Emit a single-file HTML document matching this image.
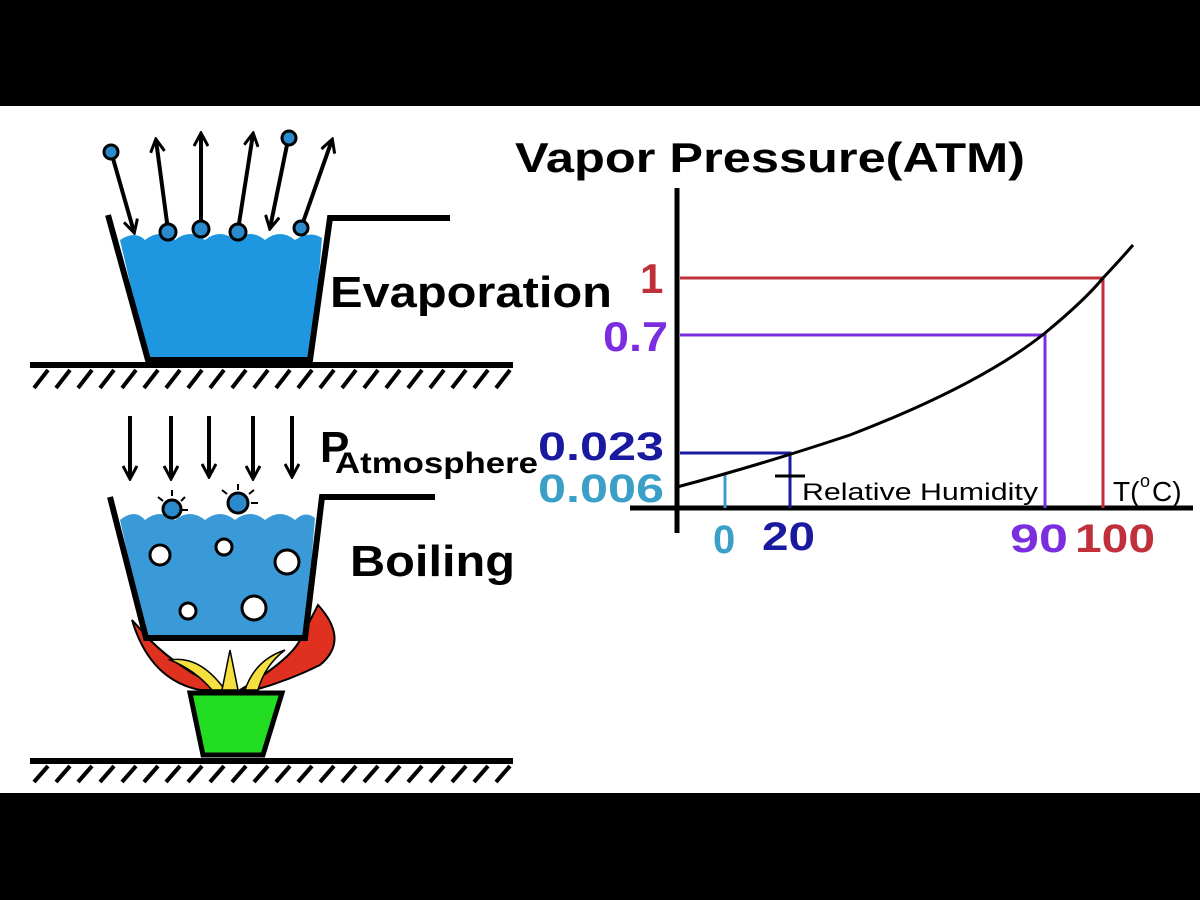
<!DOCTYPE html>
<html><head><style>
body{margin:0;background:#000;}
svg{display:block}
text{font-family:"Liberation Sans",sans-serif;font-weight:bold}
</style></head><body>
<svg width="1200" height="900" viewBox="0 0 1200 900" xmlns="http://www.w3.org/2000/svg">
<defs>
<marker id="ah" markerWidth="16" markerHeight="16" refX="13" refY="8" orient="auto" markerUnits="userSpaceOnUse" viewBox="0 0 16 16">
<path d="M1,1 L14,8 L1,15" fill="none" stroke="#000" stroke-width="3"/>
</marker>
</defs>
<rect x="0" y="0" width="1200" height="900" fill="#000"/>
<rect x="0" y="106" width="1200" height="687" fill="#fff"/>

<!-- Evaporation bucket -->
<path d="M120,240 Q135,230 145,240 Q160,228 175,240 Q190,228 205,240 Q220,228 235,240 Q250,228 265,240 Q280,228 295,240 Q310,230 322,238 L312,360 L148,360 Z" fill="#1e96e0"/>
<path d="M108,215 L148,360 L310,360 L330,218 L450,218" fill="none" stroke="#000" stroke-width="6"/>
<rect x="30" y="362" width="483" height="6" fill="#000"/>
<g stroke="#000" stroke-width="4">
<line x1="48" y1="370" x2="34" y2="388"/><line x1="70" y1="370" x2="56" y2="388"/><line x1="92" y1="370" x2="78" y2="388"/><line x1="114" y1="370" x2="100" y2="388"/><line x1="136" y1="370" x2="122" y2="388"/><line x1="158" y1="370" x2="144" y2="388"/><line x1="180" y1="370" x2="166" y2="388"/><line x1="202" y1="370" x2="188" y2="388"/><line x1="224" y1="370" x2="210" y2="388"/><line x1="246" y1="370" x2="232" y2="388"/><line x1="268" y1="370" x2="254" y2="388"/><line x1="290" y1="370" x2="276" y2="388"/><line x1="312" y1="370" x2="298" y2="388"/><line x1="334" y1="370" x2="320" y2="388"/><line x1="356" y1="370" x2="342" y2="388"/><line x1="378" y1="370" x2="364" y2="388"/><line x1="400" y1="370" x2="386" y2="388"/><line x1="422" y1="370" x2="408" y2="388"/><line x1="444" y1="370" x2="430" y2="388"/><line x1="466" y1="370" x2="452" y2="388"/><line x1="488" y1="370" x2="474" y2="388"/><line x1="510" y1="370" x2="496" y2="388"/>
</g>
<g stroke="#000" stroke-width="4" fill="none">
<line x1="112" y1="155" x2="134" y2="232" marker-end="url(#ah)"/>
<line x1="168" y1="230" x2="156" y2="140" marker-end="url(#ah)"/>
<line x1="201" y1="228" x2="201" y2="134" marker-end="url(#ah)"/>
<line x1="238" y1="230" x2="253" y2="134" marker-end="url(#ah)"/>
<line x1="288" y1="140" x2="270" y2="228" marker-end="url(#ah)"/>
<line x1="301" y1="228" x2="332" y2="140" marker-end="url(#ah)"/>
</g>
<g fill="#2a8acb" stroke="#000" stroke-width="3">
<circle cx="111" cy="152" r="7"/><circle cx="168" cy="232" r="8"/><circle cx="201" cy="229" r="8"/>
<circle cx="238" cy="232" r="8"/><circle cx="289" cy="138" r="7"/><circle cx="301" cy="228" r="7"/>
</g>
<text x="330" y="307" font-size="44" textLength="282" lengthAdjust="spacingAndGlyphs">Evaporation</text>

<!-- Boiling -->
<g stroke="#000" stroke-width="4" fill="none">
<line x1="130" y1="416" x2="130" y2="478" marker-end="url(#ah)"/>
<line x1="171" y1="416" x2="171" y2="478" marker-end="url(#ah)"/>
<line x1="209" y1="416" x2="209" y2="476" marker-end="url(#ah)"/>
<line x1="253" y1="416" x2="253" y2="478" marker-end="url(#ah)"/>
<line x1="292" y1="416" x2="292" y2="476" marker-end="url(#ah)"/>
</g>
<text x="320" y="462" font-size="44">P</text>
<text x="335" y="473" font-size="30" textLength="203" lengthAdjust="spacingAndGlyphs">Atmosphere</text>
<!-- flames -->
<path d="M132,620 Q150,680 200,690 L225,690 Q180,670 150,640 Z" fill="#e03020" stroke="#000" stroke-width="2"/>
<path d="M318,605 Q350,640 320,665 Q290,680 255,690 L240,690 Q290,660 300,640 Z" fill="#e03020" stroke="#000" stroke-width="2"/>
<path d="M170,660 Q200,655 225,690 L212,690 Q195,670 170,660Z" fill="#f5e040" stroke="#000" stroke-width="1.5"/>
<path d="M285,650 Q255,660 245,690 L258,690 Q265,665 285,650Z" fill="#f5e040" stroke="#000" stroke-width="1.5"/>
<path d="M230,650 L222,690 L238,690 Z" fill="#f5e040" stroke="#000" stroke-width="1.5"/>
<path d="M120,520 Q135,508 145,520 Q160,508 175,520 Q190,508 205,520 Q220,508 235,520 Q250,508 265,520 Q280,508 295,520 Q305,510 315,518 L305,638 L146,638 Z" fill="#3a9ad8"/>
<path d="M110,497 L146,638 L305,638 L322,497 L435,497" fill="none" stroke="#000" stroke-width="6"/>
<g fill="#fff" stroke="#000" stroke-width="3">
<circle cx="160" cy="555" r="10"/><circle cx="224" cy="547" r="8"/><circle cx="287" cy="562" r="12"/>
<circle cx="188" cy="611" r="8"/><circle cx="254" cy="608" r="12"/>
</g>
<g fill="#2a8acb" stroke="#000" stroke-width="3">
<circle cx="172" cy="509" r="9"/><circle cx="238" cy="503" r="10"/>
</g>
<g stroke="#000" stroke-width="2">
<line x1="158" y1="497" x2="163" y2="501"/><line x1="172" y1="490" x2="172" y2="496"/><line x1="185" y1="497" x2="181" y2="501"/><line x1="188" y1="510" x2="182" y2="510"/>
<line x1="222" y1="490" x2="227" y2="494"/><line x1="238" y1="484" x2="238" y2="490"/><line x1="254" y1="490" x2="249" y2="494"/><line x1="258" y1="503" x2="251" y2="503"/>
</g>
<path d="M190,693 L282,693 L263,755 L203,755 Z" fill="#22dd22" stroke="#000" stroke-width="5"/>
<text x="350" y="576" font-size="44" textLength="165" lengthAdjust="spacingAndGlyphs">Boiling</text>
<rect x="30" y="758" width="483" height="6" fill="#000"/>
<g stroke="#000" stroke-width="4">
<line x1="48" y1="766" x2="34" y2="782"/><line x1="70" y1="766" x2="56" y2="782"/><line x1="92" y1="766" x2="78" y2="782"/><line x1="114" y1="766" x2="100" y2="782"/><line x1="136" y1="766" x2="122" y2="782"/><line x1="158" y1="766" x2="144" y2="782"/><line x1="180" y1="766" x2="166" y2="782"/><line x1="202" y1="766" x2="188" y2="782"/><line x1="224" y1="766" x2="210" y2="782"/><line x1="246" y1="766" x2="232" y2="782"/><line x1="268" y1="766" x2="254" y2="782"/><line x1="290" y1="766" x2="276" y2="782"/><line x1="312" y1="766" x2="298" y2="782"/><line x1="334" y1="766" x2="320" y2="782"/><line x1="356" y1="766" x2="342" y2="782"/><line x1="378" y1="766" x2="364" y2="782"/><line x1="400" y1="766" x2="386" y2="782"/><line x1="422" y1="766" x2="408" y2="782"/><line x1="444" y1="766" x2="430" y2="782"/><line x1="466" y1="766" x2="452" y2="782"/><line x1="488" y1="766" x2="474" y2="782"/><line x1="510" y1="766" x2="496" y2="782"/>
</g>

<!-- Graph -->
<text x="515" y="172" font-size="42" textLength="510" lengthAdjust="spacingAndGlyphs">Vapor Pressure(ATM)</text>
<line x1="677" y1="188" x2="677" y2="533" stroke="#000" stroke-width="5"/>
<line x1="630" y1="508" x2="1193" y2="508" stroke="#000" stroke-width="5"/>
<path d="M680,278 L1103,278 L1103,508" fill="none" stroke="#c0303a" stroke-width="3"/>
<path d="M680,335 L1045,335 L1045,508" fill="none" stroke="#7a2ee0" stroke-width="3"/>
<path d="M680,453 L790,453 L790,508" fill="none" stroke="#1a1aa0" stroke-width="3"/>
<line x1="725" y1="475" x2="725" y2="508" stroke="#3aa0c8" stroke-width="3"/>
<line x1="775" y1="476" x2="805" y2="476" stroke="#000" stroke-width="3"/>
<path d="M677,487 Q760,465 850,435 Q980,385 1045,333 Q1085,300 1103,278 Q1120,260 1133,245" fill="none" stroke="#000" stroke-width="3"/>
<text x="640" y="293" font-size="42" fill="#c0303a">1</text>
<text x="603" y="351" font-size="42" fill="#7a2ee0" textLength="65" lengthAdjust="spacingAndGlyphs">0.7</text>
<text x="538" y="460" font-size="40" fill="#1a1aa0" textLength="126" lengthAdjust="spacingAndGlyphs">0.023</text>
<text x="538" y="502" font-size="40" fill="#3aa0c8" textLength="126" lengthAdjust="spacingAndGlyphs">0.006</text>
<text x="713" y="553" font-size="40" fill="#3aa0c8">0</text>
<text x="762" y="550" font-size="40" fill="#1a1aa0" textLength="53" lengthAdjust="spacingAndGlyphs">20</text>
<text x="1010" y="552" font-size="40" fill="#7a2ee0" textLength="58" lengthAdjust="spacingAndGlyphs">90</text>
<text x="1075" y="552" font-size="40" fill="#c0303a" textLength="80" lengthAdjust="spacingAndGlyphs">100</text>
<text x="802" y="500" font-size="24" style="font-weight:normal" textLength="236" lengthAdjust="spacingAndGlyphs">Relative Humidity</text>
<text x="1113" y="501" font-size="28" style="font-weight:normal">T(</text>
<text x="1140" y="487" font-size="18" style="font-weight:normal">o</text>
<text x="1152" y="501" font-size="28" style="font-weight:normal">C)</text>
</svg>
</body></html>
